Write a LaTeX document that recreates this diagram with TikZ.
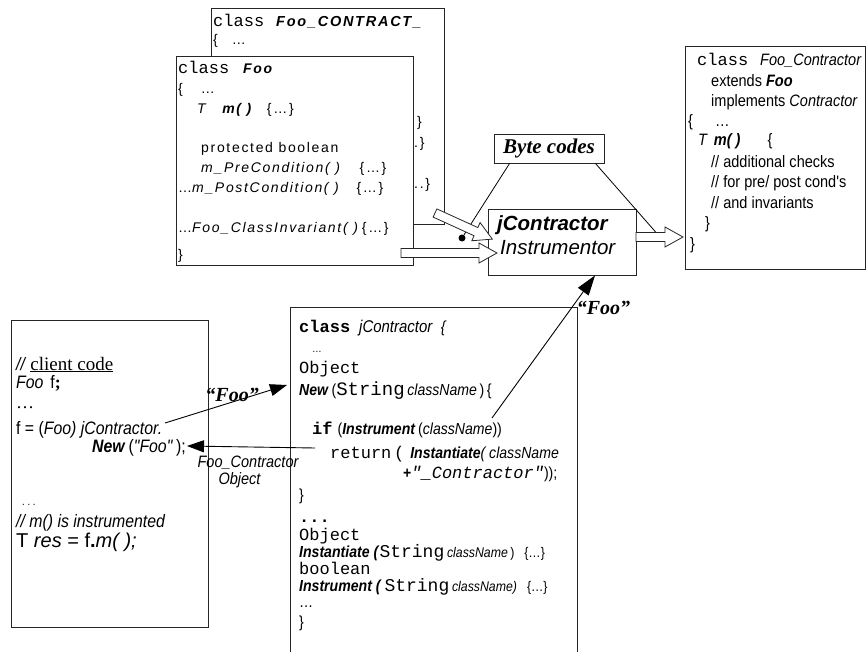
\documentclass[tikz,border=0pt]{standalone}
\usepackage{fontspec}
\setmainfont{Liberation Serif}
\setsansfont{Liberation Sans}
\setmonofont{Liberation Mono}
\newfontfamily\spacedsf[LetterSpace=12]{Liberation Sans}
\newfontfamily\narrowsf[FakeStretch=0.88]{Liberation Sans}
\newcommand\fsz[1]{\fontsize{#1}{#1}\selectfont}
\newcommand\codett[1]{{\ttfamily\fsz{17}#1}}
\usetikzlibrary{arrows.meta}

\tikzset{pics/hollowarrow/.style={code={
  \draw[draw=black!85, fill=white, line width=0.8pt] (0,-4.5) -- ({#1-18},-4.5) -- ({#1-18},-10)
    -- (#1,0) -- ({#1-18},10) -- ({#1-18},4.5) -- (0,4.5) -- cycle;}}}

\begin{document}
\begin{tikzpicture}[x=1pt,y=-1pt,
  box/.style={draw=black!85, line width=0.9pt, fill=white, inner sep=0pt},
  foocode/.style={anchor=base west, inner sep=0pt, font={\spacedsf\fsz{14}}},
  sidecode/.style={anchor=base west, inner sep=0pt, font={\narrowsf\fsz{16.5}}},
  jcode/.style={anchor=base west, inner sep=0pt, font={\narrowsf\fsz{16}}},
  clientcode/.style={anchor=base west, inner sep=0pt, font={\narrowsf\fsz{18}}},
  quote/.style={inner sep=0pt, font={\rmfamily\bfseries\itshape\fsz{20}}},
  conn/.style={line width=0.9pt, -{Triangle[length=17pt,width=12pt]}},
  conn2/.style={line width=0.9pt, -{Triangle[length=20pt,width=13pt]}}]

\path[fill=white, use as bounding box] (0,0) rectangle (866,652);

% class Foo_CONTRACT_ (behind)
\node[box, minimum width=233pt, minimum height=216pt] (contract) at (327.5,116) {};
\node[foocode] (contracthead) at (213,27) {\codett{class}\hspace{12pt}{\fsz{14.5}\textbf{\textit{Foo\_CONTRACT\_}}}};
\node[foocode] (contractopen) at (213,45) {\{\hspace{14pt}…};
\node[foocode] (contractend1) at (417,127) {\}};
\node[foocode] (contractend2) at (414,148) {.\}};
\node[foocode] (contractend3) at (414,189) {..\}};

% class Foo
\node[box, minimum width=237pt, minimum height=209pt] (foo) at (294.5,160.5) {};
\node[foocode] (foohead) at (178,74) {\codett{class}\hspace{14pt}\textbf{\textit{Foo}}};
\node[foocode] (fooopen) at (178,94) {\{\hspace{18pt}…};
\node[foocode] (foometh) at (197,114) {\textit{T}\hspace{14pt}\textbf{\textit{m( )}}\hspace{14pt}\{…\}};
\node[foocode] (fooprot) at (201,153) {protected boolean};
\node[foocode] (foopre) at (201,173) {\textit{m\_PreCondition( )}\hspace{18pt}\{…\}};
\node[foocode] (foopost) at (178,193) {…\textit{m\_PostCondition( )}\hspace{16pt}\{…\}};
\node[foocode] (fooinv) at (178,233) {…\textit{Foo\_ClassInvariant( )}\,\{…\}};
\node[foocode] (fooclose) at (178,259) {\}};

% class Foo_Contractor
\node[box, minimum width=180pt, minimum height=223pt] (contractor) at (775,157.5) {};
\node[sidecode] (ctrhead) at (697,66) {\codett{class}\hspace{12pt}\textit{Foo\_Contractor}};
\node[sidecode] (ctrext) at (711,87) {extends \textbf{\textit{Foo}}};
\node[sidecode] (ctrimpl) at (711,107) {implements \textit{Contractor}};
\node[sidecode] (ctropen) at (688,127) {\{\hspace{22pt}…};
\node[sidecode] (ctrmeth) at (698,146) {\textit{T}\hspace{6pt}\textbf{\textit{m( )}}\hspace{27pt}\{};
\node[sidecode] (ctrnote1) at (711,168) {// additional checks};
\node[sidecode] (ctrnote2) at (711,188) {// for pre/ post cond's};
\node[sidecode] (ctrnote3) at (711,208) {// and invariants};
\node[sidecode] (ctrclose1) at (705,229) {\}};
\node[sidecode] (ctrclose2) at (690,249) {\}};

% client code
\node[box, minimum width=197pt, minimum height=307pt] (client) at (109.5,473.5) {};
\node[clientcode] (clcomment) at (16,370) {\textit{//}\hspace{4pt}{\rmfamily\fsz{19}\underline{client code}}};
\node[clientcode] (cldecl) at (16,388) {\textit{Foo}\hspace{7pt}f{\rmfamily\bfseries ;}};
\node[clientcode] (cldots) at (16,408) {{\rmfamily …}};
\node[clientcode] (classign) at (16,434) {f = (\textit{Foo) jContractor.}};
\node[clientcode] (clnew) at (92,452) {\textbf{\textit{New}}\,(\textit{"Foo"}\,);};
\node[clientcode] (clskip) at (22,505) {\fsz{11}.\ .\ .};
\node[clientcode] (clnote) at (16,527) {\textit{// m() is instrumented}};
\node[clientcode] (clres) at (16,547) {{\sffamily\fsz{20}T \textit{res} = f\textbf{.}\textit{m( );}}};

% class jContractor
\node[box, minimum width=287pt, minimum height=360pt, anchor=north west] (jclass) at (290,307) {};
\node[jcode] (jhead) at (299,332) {{\ttfamily\bfseries\fsz{17}class}\hspace{9pt}{\fsz{17}\textit{jContractor}}\hspace{8pt}\textit{\{}};
\node[jcode] (jdots1) at (312,352) {\fsz{11}…};
\node[jcode] (jobj1) at (299,373) {\codett{Object}};
\node[jcode] (jnew) at (299,395) {\textbf{\textit{New}}\,({\ttfamily\fsz{19}String}\,\textit{className}\,)\,\{};
\node[jcode] (jif) at (312,434) {{\ttfamily\bfseries\fsz{17}if}\hspace{5pt}(\textbf{\textit{Instrument}}\,(\textit{className}))};
\node[jcode] (jret) at (330,458) {\codett{return}\,\codett{(}\hspace{6pt}\textbf{\textit{Instantiate}}\textit{(}\,\textit{className}};
\node[jcode] (jplus) at (403,478) {\textbf{+}{\ttfamily\itshape\fsz{17}"\_Contractor"}));};
\node[jcode] (jclose1) at (299,500) {\}};
\node[jcode] (jdots2) at (299,522) {{\ttfamily\bfseries\fsz{17}...}};
\node[jcode] (jobj2) at (299,540) {\codett{Object}};
\node[jcode] (jinst) at (299,557) {\textbf{\textit{Instantiate (}}{\ttfamily\fsz{18}String}\,{\fsz{14}\textit{className}\,)\hspace{10pt}\{…\}}};
\node[jcode] (jbool) at (299,574) {\codett{boolean}};
\node[jcode] (jinstr) at (299,591) {\textbf{\textit{Instrument (}}\,{\ttfamily\fsz{18}String}\,{\fsz{14}\textit{className)}\hspace{10pt}\{…\}}};
\node[jcode] (jdots3) at (299,607) {…};
\node[jcode] (jclose2) at (299,627) {\}};

% Byte codes and instrumentor
\node[draw=black!85, line width=0.9pt, fill=white, minimum width=110pt, minimum height=29pt,
  inner sep=0pt, font={\bfseries\itshape\fsz{21}}] (bytecodes) at (549,148.5) {Byte codes\hspace{12pt}};
\node[box, minimum width=148pt, minimum height=66pt] (instr) at (562,242) {};
\node[anchor=base west, inner sep=0pt, font={\sffamily\bfseries\itshape\fsz{20.5}}] (instrname) at (497,230) {jContractor};
\node[anchor=base west, inner sep=0pt, font={\sffamily\itshape\fsz{20.5}}] (instrrole) at (500,254) {Instrumentor};

\node[circle, fill, inner sep=0pt, minimum size=7pt] (bytedot) at (462,238) {};
\coordinate (outmid) at (660,237);
\draw[line width=0.8pt] ([xshift=16pt]bytecodes.south west) -- (bytedot);
\draw[line width=0.8pt] ([xshift=-9pt]bytecodes.south east) -- (outmid);

% hollow arrows
\pic[rotate=-24.5] (feedcontract) at (435,213) {hollowarrow=63};
\pic (feedfoo) at (401,253) {hollowarrow=96};
\pic (feedout) at (636,237) {hollowarrow=47};

% calls
\coordinate (fooout) at (165,423);
\coordinate (newin) at (287,385);
\coordinate (retstart) at (315,448);
\coordinate (retend) at (187,446);
\coordinate (nameout) at (492,418);
\draw[conn] (fooout) -- node[quote, pos=0.55, yshift=7pt] (foolabel) {“Foo”} (newin);
\draw[conn] (retstart) -- node[pos=0.5, below=9pt, xshift=-3pt, align=left, inner sep=0pt,
  font={\narrowsf\itshape\fsz{16.5}}] (retlabel) {Foo\_Contractor\\\hspace*{21pt}Object} (retend);
\draw[conn2] (nameout) -- node[quote, pos=0.77, anchor=west, xshift=5pt] (namelabel) {“Foo”} ([xshift=33pt]instr.south);
\end{tikzpicture}
\end{document}
